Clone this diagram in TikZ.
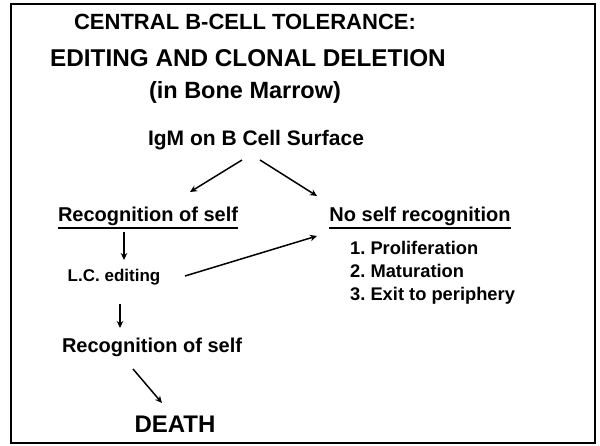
\documentclass[tikz,border=0pt]{standalone}
\usepackage{fontspec}
\setmainfont{Liberation Sans}
\usetikzlibrary{calc,arrows.meta}
\tikzset{
  txt/.style={inner sep=0pt, anchor=base, font=\bfseries},
  lst/.style={inner sep=0pt, anchor=base west, font=\bfseries\fontsize{18.3}{21}\selectfont},
  arr/.style={line width=1.5pt, -{Stealth[length=7pt,width=6.5pt]}},
  uline/.style={line width=1.2pt},
  frame/.style={line width=2.2pt}
}
\begin{document}
\begin{tikzpicture}[x=1pt,y=1pt]
\useasboundingbox (0,0) rectangle (600,445);
\draw[frame] (11,2) rectangle (595,441);
\node[txt, font=\bfseries\fontsize{22}{26}\selectfont] (t1) at (245,415) {CENTRAL B-CELL TOLERANCE:};
\node[txt, font=\bfseries\fontsize{24.3}{28}\selectfont] (t2) at (248,378) {EDITING AND CLONAL DELETION};
\node[txt, font=\bfseries\fontsize{23.5}{27}\selectfont] (t3) at (245,346) {(in Bone Marrow)};
\node[txt, font=\bfseries\fontsize{21}{25}\selectfont] (igm) at (256,299) {IgM on B Cell Surface};
\node[txt, font=\bfseries\fontsize{20}{24}\selectfont] (rec1) at (148,223) {Recognition of self};
\node[txt, font=\bfseries\fontsize{20}{24}\selectfont] (nos) at (420,223) {No self recognition};
\node[txt, font=\bfseries\fontsize{17}{20}\selectfont] (lce) at (114,164) {L.C. editing};
\node[lst] (l1) at (350,190) {1.\ Proliferation};
\node[lst] (l2) at (350,167) {2.\ Maturation};
\node[lst] (l3) at (350,144) {3.\ Exit to periphery};
\node[txt, font=\bfseries\fontsize{20}{24}\selectfont] (rec2) at (152,93) {Recognition of self};
\node[txt, font=\bfseries\fontsize{24}{28}\selectfont] (death) at (175,13) {DEATH};
% underlines
\draw[uline] ($(rec1.south west)+(0,-1.5pt)$) -- ($(rec1.south east)+(0,-1.5pt)$);
\draw[uline] ($(nos.south west)+(0,-1.5pt)$) -- ($(nos.south east)+(0,-1.5pt)$);
% arrows
\draw[arr] ($(igm.base)+(-14pt,-14pt)$) -- ($(rec1.base)+(42pt,30pt)$);
\draw[arr] ($(igm.base)+(4pt,-14pt)$) -- ($(nos.base)+(-103pt,26pt)$);
\draw[arr] ($(rec1.base)+(-24pt,-10pt)$) -- ($(lce.base)+(10pt,21pt)$);
\draw[arr] ($(lce.base)+(71pt,5pt)$) -- ($(nos.base)+(-103pt,-14pt)$);
\draw[arr] ($(lce.base)+(6pt,-23pt)$) -- ($(rec2.base)+(-32pt,24pt)$);
\draw[arr] ($(rec2.base)+(-19pt,-17pt)$) -- ($(death.base)+(-13pt,29pt)$);
\end{tikzpicture}
\end{document}
